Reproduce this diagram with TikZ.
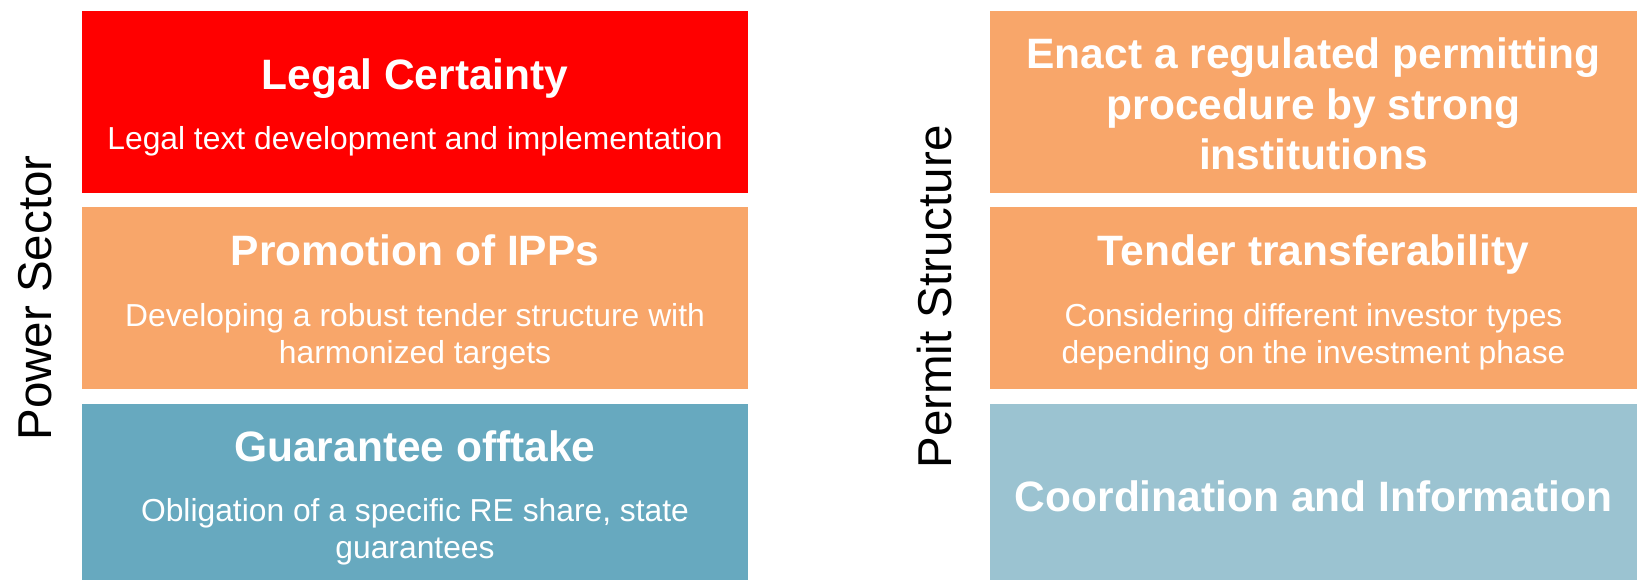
\documentclass[tikz,border=0pt]{standalone}
\usepackage{fontspec}
\setmainfont{Liberation Sans}
\usetikzlibrary{positioning}
\definecolor{certred}{HTML}{FF0000}
\definecolor{promoorange}{HTML}{F8A66A}
\definecolor{offtakeblue}{HTML}{67A9BF}
\definecolor{coordblue}{HTML}{9BC3D1}

\begin{document}
\begin{tikzpicture}
            [x=1pt, y=-1pt,
             block/.style={rectangle, inner sep=0pt, anchor=north west},
             headline/.style={text=white, anchor=base, align=center, inner sep=0pt,
                              font=\fontsize{42.5}{50.5}\selectfont\bfseries},
             subline/.style={text=white, anchor=base, align=center, inner sep=0pt,
                             font=\fontsize{31.8}{37.3}\selectfont},
             sidelabel/.style={rotate=90, anchor=base, inner sep=0pt,
                               font=\fontsize{47.5}{50}\selectfont}]

            \useasboundingbox (0,0) rectangle (1637,580);

            \node[block, fill=certred, minimum width=666pt, minimum height=182pt] (legal) at (82,11) {};
            \node[block, fill=promoorange, minimum width=666pt, minimum height=182pt] (ipp) at (82,207) {};
            \node[block, fill=offtakeblue, minimum width=666pt, minimum height=176pt] (offtake) at (82,404) {};

            \node[block, fill=promoorange, minimum width=647pt, minimum height=182pt] (permitting) at (990,11) {};
            \node[block, fill=promoorange, minimum width=647pt, minimum height=182pt] (transfer) at (990,207) {};
            \node[block, fill=coordblue, minimum width=647pt, minimum height=176pt] (coord) at (990,404) {};

            % multi-line nodes sit on the baseline of their last line
            \node[headline] (legal-t) at (415,89.5) {Legal Certainty};
            \node[subline] (legal-s) at (415,150) {Legal text development and implementation};
            \node[headline] (ipp-t) at (415,265) {Promotion of IPPs};
            \node[subline] (ipp-s) at (415,363.3) {Developing a robust tender structure with\\harmonized targets};
            \node[headline] (offtake-t) at (415,461.7) {Guarantee offtake};
            \node[subline] (offtake-s) at (415,558.3) {Obligation of a specific RE share, state\\guarantees};

            \node[headline] (permitting-t) at (1313.5,170) {Enact a regulated permitting\\procedure by strong\\institutions};
            \node[headline] (transfer-t) at (1313.5,265) {Tender transferability};
            \node[subline] (transfer-s) at (1313.5,363.3) {Considering different investor types\\depending on the investment phase};
            \node[headline] (coord-t) at (1313.5,511.5) {Coordination and Information};

            \node[sidelabel] (power) at (51.7,298) {Power Sector};
            \node[sidelabel] (permit) at (951.7,297) {Permit Structure};
        \end{tikzpicture}
\end{document}
